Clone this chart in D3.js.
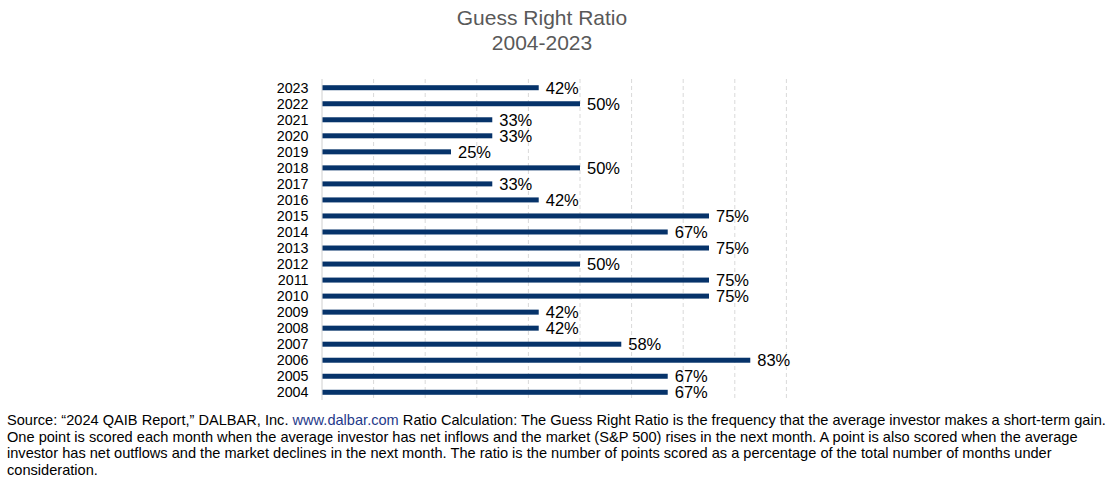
<!DOCTYPE html>
<html><head><meta charset="utf-8">
<script src="https://cdn.jsdelivr.net/npm/d3@7"></script>
<style>
body{margin:0;background:#fff;}
svg{display:block;font-family:"Liberation Sans",Arial,sans-serif;}
</style></head>
<body>
<svg id="c" width="1115" height="481"></svg>
<script>
const years = ["2023","2022","2021","2020","2019","2018","2017","2016","2015","2014","2013","2012","2011","2010","2009","2008","2007","2006","2005","2004"];
const values = [42,50,33,33,25,50,33,42,75,67,75,50,75,75,42,42,58,83,67,67];
const gridTicks = [10,20,30,40,50,60,70,80,90];
const titleLines = ["Guess Right Ratio","2004-2023"];
const footerLines = [
  [["Source: \u201c2024 QAIB Report,\u201d DALBAR, Inc. ",false],["www.dalbar.com",true],[" Ratio Calculation: The Guess Right Ratio is the frequency that the average investor makes a short-term gain.",false]],
  [["One point is scored each month when the average investor has net inflows and the market (S&P 500) rises in the next month. A point is also scored when the average",false]],
  [["investor has net outflows and the market declines in the next month. The ratio is the number of points scored as a percentage of the total number of months under",false]],
  [["consideration.",false]]
];

const svg = d3.select("#c");
const x = d3.scaleLinear().domain([0,100]).range([322,838]);
const y = d3.scaleBand().domain(years).range([79.7,400.3]).paddingInner(0).paddingOuter(0);
const barH = 5;

svg.append("g").selectAll("line").data(gridTicks).join("line")
  .attr("x1",d=>x(d)).attr("x2",d=>x(d))
  .attr("y1",79).attr("y2",400)
  .attr("stroke","#d9d9d9").attr("stroke-width",1).attr("stroke-dasharray","4,3");

svg.append("line").attr("x1",x(0)).attr("x2",x(0)).attr("y1",79).attr("y2",400)
  .attr("stroke","#d0d0d0").attr("stroke-width",1);

svg.append("g").selectAll("rect").data(years).join("rect")
  .attr("x",x(0)+0.5)
  .attr("y",(d)=>y(d)+y.bandwidth()/2-barH/2)
  .attr("width",(d,i)=>x(values[i])-x(0)-0.5)
  .attr("height",barH)
  .attr("fill","#06336a");

svg.append("g").selectAll("text").data(years).join("text")
  .attr("x",308.5).attr("y",d=>y(d)+y.bandwidth()/2)
  .attr("dy","0.36em").attr("text-anchor","end")
  .attr("font-size",14.3).attr("fill","#000").text(d=>d);

svg.append("g").selectAll("text").data(years).join("text")
  .attr("x",(d,i)=>x(values[i])+7).attr("y",d=>y(d)+y.bandwidth()/2)
  .attr("dy","0.36em").attr("text-anchor","start")
  .attr("font-size",16.5).attr("fill","#000").text((d,i)=>values[i]+"%");

svg.append("g").selectAll("text").data(titleLines).join("text")
  .attr("x",542).attr("y",(d,i)=>25+i*25)
  .attr("text-anchor","middle").attr("font-size",21).attr("fill","#595959").text(d=>d);

const f = svg.append("g");
footerLines.forEach((parts,i)=>{
  const t = f.append("text").attr("x",7).attr("y",425+i*16.5).attr("font-size",14.6).attr("fill","#000");
  parts.forEach(p=>{
    t.append("tspan").attr("fill",p[1]?"#1f3a8a":"#000").text(p[0]);
  });
});
</script>
</body></html>
